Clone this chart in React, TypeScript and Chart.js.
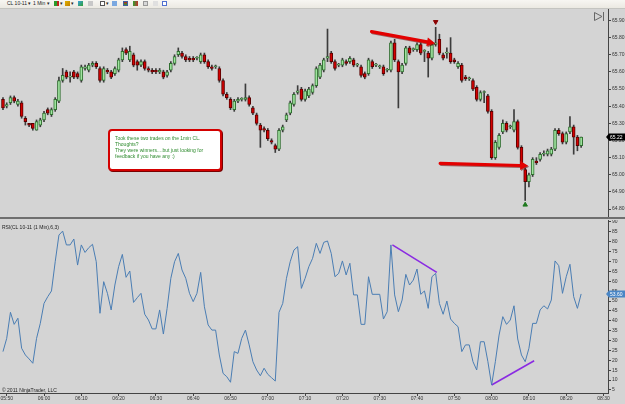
import React, { useEffect, useRef } from "react";
import { Chart, registerables } from "chart.js";

Chart.register(...registerables);

// ---------- data (1-minute bars, CL 10-11, starting 05:49) ----------
const OPEN = [
  65.44, 65.40, 65.42, 65.45, 65.41, 65.42, 65.33, 65.30, 65.30, 65.26,
  65.29, 65.32, 65.38, 65.35, 65.38, 65.43, 65.55, 65.60, 65.57, 65.60,
  65.59, 65.55, 65.62, 65.61, 65.64, 65.65, 65.62, 65.55, 65.61, 65.60,
  65.59, 65.61, 65.67, 65.73, 65.67, 65.70, 65.66, 65.64, 65.66, 65.62,
  65.61, 65.61, 65.60, 65.60, 65.58, 65.61, 65.65, 65.70, 65.71, 65.69,
  65.68, 65.68, 65.68, 65.66, 65.70, 65.66, 65.63, 65.63, 65.62, 65.55,
  65.47, 65.44, 65.38, 65.43, 65.44, 65.44, 65.45, 65.39, 65.35, 65.29,
  65.27, 65.26, 65.20, 65.17, 65.15, 65.26, 65.32, 65.36, 65.41, 65.48,
  65.50, 65.44, 65.46, 65.48, 65.52, 65.57, 65.61, 65.68, 65.71, 65.66,
  65.64, 65.64, 65.66, 65.66, 65.67, 65.64, 65.63, 65.59, 65.59, 65.66,
  65.64, 65.63, 65.63, 65.61, 65.61, 65.77, 65.66, 65.60, 65.65, 65.74,
  65.73, 65.73, 65.76, 65.72, 65.71, 65.68, 65.76, 65.79, 65.70, 65.71,
  65.71, 65.67, 65.63, 65.64, 65.57, 65.56, 65.55, 65.51, 65.44, 65.48,
  65.46, 65.37, 65.10, 65.16, 65.25, 65.30, 65.28, 65.26, 65.31, 65.16,
  65.03, 64.96, 65.00, 65.08, 65.09, 65.12, 65.12, 65.12, 65.15, 65.26,
  65.24, 65.19, 65.25, 65.28, 65.22, 65.17,
];
const HIGH = [
  65.45, 65.42, 65.46, 65.46, 65.44, 65.43, 65.34, 65.30, 65.30, 65.32,
  65.33, 65.37, 65.39, 65.39, 65.45, 65.57, 65.62, 65.61, 65.60, 65.61,
  65.60, 65.64, 65.64, 65.65, 65.66, 65.66, 65.63, 65.63, 65.62, 65.61,
  65.63, 65.68, 65.74, 65.74, 65.75, 65.71, 65.67, 65.67, 65.67, 65.63,
  65.62, 65.62, 65.62, 65.61, 65.61, 65.66, 65.70, 65.74, 65.72, 65.70,
  65.69, 65.69, 65.69, 65.71, 65.71, 65.67, 65.64, 65.64, 65.63, 65.56,
  65.48, 65.45, 65.44, 65.45, 65.45, 65.53, 65.46, 65.40, 65.36, 65.30,
  65.28, 65.27, 65.21, 65.18, 65.27, 65.29, 65.36, 65.43, 65.48, 65.52,
  65.51, 65.50, 65.51, 65.53, 65.63, 65.65, 65.68, 65.85, 65.72, 65.67,
  65.65, 65.68, 65.67, 65.69, 65.68, 65.65, 65.64, 65.60, 65.68, 65.67,
  65.65, 65.64, 65.64, 65.62, 65.78, 65.79, 65.67, 65.65, 65.75, 65.75,
  65.74, 65.77, 65.77, 65.73, 65.72, 65.77, 65.86, 65.82, 65.71, 65.74,
  65.80, 65.68, 65.66, 65.65, 65.58, 65.57, 65.56, 65.52, 65.49, 65.49,
  65.47, 65.38, 65.20, 65.24, 65.32, 65.31, 65.29, 65.38, 65.32, 65.17,
  65.04, 65.01, 65.10, 65.10, 65.13, 65.14, 65.15, 65.16, 65.27, 65.27,
  65.25, 65.25, 65.34, 65.29, 65.23, 65.22,
];
const LOW = [
  65.38, 65.39, 65.41, 65.42, 65.40, 65.33, 65.29, 65.28, 65.26, 65.26,
  65.28, 65.31, 65.35, 65.34, 65.37, 65.42, 65.54, 65.56, 65.54, 65.56,
  65.56, 65.54, 65.61, 65.60, 65.63, 65.62, 65.54, 65.54, 65.59, 65.56,
  65.58, 65.60, 65.66, 65.70, 65.66, 65.63, 65.61, 65.63, 65.61, 65.60,
  65.59, 65.59, 65.59, 65.56, 65.57, 65.60, 65.64, 65.69, 65.68, 65.66,
  65.66, 65.66, 65.67, 65.65, 65.65, 65.62, 65.61, 65.62, 65.54, 65.46,
  65.44, 65.38, 65.37, 65.42, 65.43, 65.43, 65.40, 65.35, 65.29, 65.16,
  65.25, 65.20, 65.18, 65.13, 65.14, 65.25, 65.31, 65.35, 65.40, 65.47,
  65.43, 65.43, 65.45, 65.47, 65.51, 65.56, 65.60, 65.66, 65.65, 65.61,
  65.63, 65.63, 65.64, 65.65, 65.63, 65.63, 65.57, 65.56, 65.58, 65.62,
  65.63, 65.62, 65.58, 65.60, 65.60, 65.66, 65.39, 65.59, 65.64, 65.70,
  65.72, 65.72, 65.70, 65.66, 65.57, 65.67, 65.75, 65.70, 65.67, 65.68,
  65.65, 65.65, 65.62, 65.54, 65.55, 65.55, 65.49, 65.43, 65.43, 65.42,
  65.36, 65.09, 65.09, 65.15, 65.24, 65.25, 65.27, 65.25, 65.15, 65.05,
  64.85, 64.93, 64.99, 65.06, 65.08, 65.11, 65.11, 65.11, 65.14, 65.23,
  65.18, 65.18, 65.24, 65.12, 65.14, 65.16,
];
const CLOSE = [
  65.39, 65.41, 65.45, 65.43, 65.43, 65.34, 65.31, 65.29, 65.27, 65.31,
  65.32, 65.36, 65.36, 65.38, 65.44, 65.55, 65.58, 65.57, 65.57, 65.57,
  65.57, 65.63, 65.63, 65.64, 65.65, 65.63, 65.55, 65.62, 65.60, 65.57,
  65.62, 65.67, 65.72, 65.71, 65.72, 65.64, 65.64, 65.66, 65.62, 65.61,
  65.60, 65.60, 65.61, 65.57, 65.60, 65.65, 65.69, 65.72, 65.69, 65.67,
  65.67, 65.67, 65.68, 65.70, 65.66, 65.63, 65.62, 65.63, 65.55, 65.47,
  65.45, 65.39, 65.43, 65.44, 65.44, 65.45, 65.41, 65.36, 65.30, 65.26,
  65.26, 65.21, 65.19, 65.15, 65.26, 65.28, 65.35, 65.42, 65.47, 65.49,
  65.44, 65.49, 65.50, 65.52, 65.62, 65.64, 65.67, 65.69, 65.66, 65.62,
  65.64, 65.67, 65.65, 65.68, 65.64, 65.64, 65.58, 65.57, 65.67, 65.63,
  65.64, 65.63, 65.59, 65.61, 65.77, 65.67, 65.60, 65.64, 65.74, 65.71,
  65.73, 65.76, 65.71, 65.72, 65.68, 65.76, 65.77, 65.71, 65.68, 65.71,
  65.66, 65.66, 65.65, 65.55, 65.56, 65.56, 65.50, 65.44, 65.48, 65.48,
  65.37, 65.10, 65.19, 65.23, 65.30, 65.26, 65.28, 65.31, 65.16, 65.06,
  64.96, 65.00, 65.09, 65.07, 65.12, 65.12, 65.14, 65.15, 65.26, 65.24,
  65.19, 65.24, 65.28, 65.22, 65.17, 65.22,
];

// RSI(6,3)
const RSI = [
  24.4, 31.1, 44.3, 38.2, 41.3, 26.1, 22.7, 20.7, 18.5, 31.1,
  38.7, 48.8, 52.2, 55.1, 69.9, 83.4, 85.4, 78.4, 78.4, 81.4,
  68.2, 78.4, 74.6, 77.0, 78.7, 69.9, 43.8, 59.8, 53.9, 45.5,
  58.1, 67.4, 73.6, 62.0, 65.2, 49.3, 51.7, 53.9, 43.3, 40.4,
  35.9, 35.9, 45.5, 33.3, 46.3, 61.5, 69.9, 74.1, 65.7, 61.5,
  53.9, 49.7, 53.9, 64.5, 47.1, 37.9, 35.3, 35.3, 22.7, 13.4,
  11.7, 8.9, 24.4, 23.5, 31.1, 35.3, 27.8, 19.3, 15.1, 12.2,
  16.0, 12.9, 11.2, 9.5, 44.3, 48.8, 61.5, 69.9, 75.8, 77.5,
  56.4, 61.5, 67.4, 71.6, 79.2, 74.1, 79.7, 80.4, 74.1, 62.3,
  64.0, 70.3, 63.2, 69.1, 53.1, 53.1, 38.2, 38.2, 62.3, 53.4,
  53.4, 53.4, 40.9, 44.6, 78.4, 53.1, 44.6, 50.5, 63.5, 58.1,
  60.6, 66.2, 53.4, 55.1, 46.3, 62.3, 64.0, 48.8, 43.3, 50.0,
  40.9, 38.7, 37.0, 24.4, 27.8, 27.8, 19.3, 15.1, 29.4, 29.4,
  19.3, 7.5, 19.3, 32.8, 42.1, 38.2, 40.4, 47.6, 30.8, 22.7,
  19.3, 26.1, 38.7, 38.7, 45.5, 47.6, 46.0, 50.5, 70.3, 67.9,
  53.9, 62.3, 68.6, 52.2, 46.3, 53.6,
];

const TIME_TICKS = [
  "05:50", "06:00", "06:10", "06:20", "06:30", "06:40", "06:50", "07:00", "07:10",
  "07:20", "07:30", "07:40", "07:50", "08:00", "08:10", "08:20", "08:30",
];
const PRICE_TICKS = [64.8, 64.9, 65.0, 65.1, 65.2, 65.3, 65.4, 65.5, 65.6, 65.7, 65.8, 65.9];
const RSI_TICKS = [5, 10, 15, 20, 25, 30, 35, 40, 45, 50, 55, 60, 65, 70, 75, 80, 85, 90];

// divergence lines on RSI (bar index, rsi)
const DIV1_X = [104.4, 116.3];
const DIV1_Y = [78.4, 64.5];
const DIV2_X = [131, 142.4];
const DIV2_Y = [7.5, 19.8];

// arrows on price (bar index, price)
const ARROW_X0 = [98.8, 117.2];
const ARROW_Y0 = [65.835, 65.067];
const ARROW_X1 = [115.8, 140.8];
const ARROW_Y1 = [65.767, 65.053];

// signal markers
const SHORT_SIGNAL = { x: 116, y: 65.892 };
const LONG_SIGNAL = { x: 140, y: 64.825 };

const CURRENT_PRICE_LABEL = "65.22";
const CURRENT_RSI_LABEL = "53.60";

const NOTE_LINES = [
  "Took these two trades on the 1min CL.",
  "Thoughts?",
  "They were winners....but just looking for",
  "feedback if you have any :)",
];

const FONT = "'Liberation Sans', Arial, sans-serif";
const X_MIN = -0.8;
const X_MAX = 162.2;

function xScale(display: boolean) {
  return {
    type: "linear" as const,
    min: X_MIN,
    max: X_MAX,
    offset: false,
    display,
    afterBuildTicks: (s: any) => {
      s.ticks = TIME_TICKS.map((_, k) => ({ value: 1 + 10 * k }));
    },
    afterFit: (s: any) => {
      s.height = display ? 11 : 0;
      s.paddingLeft = 0;
      s.paddingRight = 0;
    },
    ticks: {
      autoSkip: false,
      maxRotation: 0,
      padding: 0,
      color: "#333",
      font: { family: FONT, size: 5 },
      callback: (v: any) => TIME_TICKS[Math.round((Number(v) - 1) / 10)] ?? "",
    },
    grid: { drawOnChartArea: false, drawTicks: true, tickLength: 3, color: "#444" },
    border: { display: true, color: "#444", width: 1 },
  };
}

function yScale(min: number, max: number, ticks: number[], fmt: (v: number) => string) {
  return {
    type: "linear" as const,
    position: "right" as const,
    min,
    max,
    afterBuildTicks: (s: any) => {
      s.ticks = ticks.map((v) => ({ value: v }));
    },
    afterFit: (s: any) => {
      s.width = 17;
      s.paddingTop = 0;
      s.paddingBottom = 0;
    },
    ticks: {
      padding: 1,
      color: "#333",
      font: { family: FONT, size: 5 },
      callback: (v: any) => fmt(Number(v)),
    },
    grid: { drawOnChartArea: false, drawTicks: true, tickLength: 3, color: "#444" },
    border: { display: true, color: "#444", width: 1 },
  };
}

function drawValueLabel(ctx: CanvasRenderingContext2D, chart: any, y: number, text: string, fill: string, color: string) {
  const left = chart.chartArea.right;
  const w = chart.width - left;
  const h = 7;
  ctx.save();
  ctx.fillStyle = fill;
  ctx.beginPath();
  ctx.moveTo(left - 2, y);
  ctx.lineTo(left + 1, y - h / 2);
  ctx.lineTo(left + w, y - h / 2);
  ctx.lineTo(left + w, y + h / 2);
  ctx.lineTo(left + 1, y + h / 2);
  ctx.closePath();
  ctx.fill();
  ctx.fillStyle = color;
  ctx.font = `5px ${FONT}`;
  ctx.textBaseline = "middle";
  ctx.textAlign = "left";
  ctx.fillText(text, left + 2, y + 0.5);
  ctx.restore();
}

const priceOverlay = {
  id: "priceOverlay",
  afterDatasetsDraw(chart: any) {
    const { ctx, scales } = chart;
    const sx = scales.x;
    const sy = scales.y;
    ctx.save();
    for (let k = 0; k < ARROW_X0.length; k++) {
      const x0 = sx.getPixelForValue(ARROW_X0[k]);
      const y0 = sy.getPixelForValue(ARROW_Y0[k]);
      const x1 = sx.getPixelForValue(ARROW_X1[k]);
      const y1 = sy.getPixelForValue(ARROW_Y1[k]);
      const ang = Math.atan2(y1 - y0, x1 - x0);
      const hl = 8;
      const hw = 4.5;
      const bx = x1 - Math.cos(ang) * hl;
      const by = y1 - Math.sin(ang) * hl;
      for (const pass of [0, 1]) {
        const off = pass === 0 ? 1 : 0;
        ctx.strokeStyle = pass === 0 ? "rgba(110,0,0,0.55)" : "#e30000";
        ctx.fillStyle = ctx.strokeStyle;
        ctx.lineWidth = 3.2;
        ctx.lineCap = "round";
        ctx.beginPath();
        ctx.moveTo(x0 + off, y0 + off);
        ctx.lineTo(bx + off, by + off);
        ctx.stroke();
        ctx.beginPath();
        ctx.moveTo(x1 + off, y1 + off);
        ctx.lineTo(bx - Math.sin(ang) * hw + off, by + Math.cos(ang) * hw + off);
        ctx.lineTo(bx + Math.sin(ang) * hw + off, by - Math.cos(ang) * hw + off);
        ctx.closePath();
        ctx.fill();
      }
    }
    ctx.restore();
  },
  afterDraw(chart: any) {
    const y = chart.scales.y.getPixelForValue(CLOSE[CLOSE.length - 1]);
    drawValueLabel(chart.ctx, chart, y, CURRENT_PRICE_LABEL, "#000", "#fff");
  },
};

const rsiOverlay = {
  id: "rsiOverlay",
  afterDraw(chart: any) {
    const y = chart.scales.y.getPixelForValue(RSI[RSI.length - 1]);
    drawValueLabel(chart.ctx, chart, y, CURRENT_RSI_LABEL, "#4a86c5", "#fff");
  },
};

export default function App() {
  const priceRef = useRef<HTMLCanvasElement>(null);
  const rsiRef = useRef<HTMLCanvasElement>(null);

  useEffect(() => {
    const idx = CLOSE.map((_, i) => i);
    const up = idx.map((i) => CLOSE[i] >= OPEN[i]);

    const priceChart = new Chart(priceRef.current!, {
      type: "bar",
      data: {
        datasets: [
          {
            type: "bar",
            data: idx.map((i) => ({ x: i, y: [LOW[i], HIGH[i]] })) as any,
            backgroundColor: "#3c3c3c",
            barThickness: 1,
            grouped: false,
            borderWidth: 0,
            order: 2,
          } as any,
          {
            type: "bar",
            data: idx.map((i) => ({ x: i, y: [OPEN[i], CLOSE[i]] })) as any,
            backgroundColor: idx.map((i) => (up[i] ? "#9fe49f" : "#d40000")),
            borderColor: idx.map((i) => (up[i] ? "#2f6e2f" : "#5a0000")),
            borderWidth: 1,
            borderSkipped: false,
            barThickness: 3,
            minBarLength: 1,
            grouped: false,
            order: 1,
          } as any,
          {
            type: "scatter",
            data: [SHORT_SIGNAL],
            pointStyle: "triangle",
            rotation: 180,
            pointRadius: 2.6,
            backgroundColor: "#8b0000",
            borderColor: "#8b0000",
            order: 0,
          } as any,
          {
            type: "scatter",
            data: [LONG_SIGNAL],
            pointStyle: "triangle",
            pointRadius: 2.6,
            backgroundColor: "#1f7a1f",
            borderColor: "#1f7a1f",
            order: 0,
          } as any,
        ],
      },
      options: {
        responsive: false,
        animation: false,
        events: [],
        layout: { padding: 0, autoPadding: false },
        plugins: { legend: { display: false }, tooltip: { enabled: false } },
        scales: {
          x: xScale(false) as any,
          y: yScale(64.748, 65.967, PRICE_TICKS, (v) => v.toFixed(2)) as any,
        },
      },
      plugins: [priceOverlay],
    });

    const rsiChart = new Chart(rsiRef.current!, {
      type: "line",
      data: {
        datasets: [
          {
            data: idx.map((i) => ({ x: i, y: RSI[i] })),
            borderColor: "#4a7db3",
            borderWidth: 1,
            pointRadius: 0,
            tension: 0,
          },
          {
            data: DIV1_X.map((x, k) => ({ x, y: DIV1_Y[k] })),
            borderColor: "#8a2be2",
            borderWidth: 1.6,
            pointRadius: 0,
          },
          {
            data: DIV2_X.map((x, k) => ({ x, y: DIV2_Y[k] })),
            borderColor: "#8a2be2",
            borderWidth: 1.6,
            pointRadius: 0,
          },
        ],
      },
      options: {
        responsive: false,
        animation: false,
        events: [],
        layout: { padding: 0, autoPadding: false },
        plugins: { legend: { display: false }, tooltip: { enabled: false } },
        scales: {
          x: xScale(true) as any,
          y: yScale(3.46, 91.01, RSI_TICKS, (v) => String(v)) as any,
        },
      },
      plugins: [rsiOverlay],
    });

    return () => {
      priceChart.destroy();
      rsiChart.destroy();
    };
  }, []);

  const icon = (left: number, bg: string, border = "none") => (
    <span
      style={{
        position: "absolute",
        left,
        top: 1,
        width: 5,
        height: 5,
        background: bg,
        border,
        boxSizing: "border-box",
      }}
    />
  );

  return (
    <div
      style={{
        position: "fixed",
        left: 0,
        top: 0,
        width: 625,
        height: 404,
        background: "#d4d4d4",
        overflow: "hidden",
        fontFamily: FONT,
      }}
    >
      {/* toolbar */}
      <div
        style={{
          position: "absolute",
          left: 0,
          top: 0,
          width: 625,
          height: 8,
          background: "linear-gradient(#f7f6f2, #ebe9e2)",
          borderBottom: "1px solid #c4c4c0",
          fontSize: 5,
          color: "#222",
          lineHeight: "7px",
        }}
      >
        <span style={{ position: "absolute", left: 7, top: 0 }}>CL 10-11 ▾</span>
        <span style={{ position: "absolute", left: 33, top: 0 }}>1 Min ▾</span>
        {icon(54, "linear-gradient(90deg,#2a9a2a 50%,#c02020 50%)")}
        <span style={{ position: "absolute", left: 60, top: 0 }}>▾</span>
        {icon(65, "linear-gradient(135deg,#e0b000,#c08000)")}
        <span style={{ position: "absolute", left: 71, top: 0 }}>▾</span>
        {icon(78, "linear-gradient(135deg,#3aa0e0,#30a030)")}
        {icon(88, "#c8c8c8")}
        {icon(100, "#fff", "1px solid #555")}
        <span style={{ position: "absolute", left: 106, top: 0 }}>▾</span>
        {icon(112, "#7aa8e0")}
        {icon(123, "linear-gradient(#c02020,#30a030)", "1px solid #4060a0")}
        {icon(133, "linear-gradient(90deg,#30a030,#c03030)")}
        {icon(143, "#d8d8d8", "1px solid #999")}
        {icon(153, "#e0e0e0")}
        {icon(162, "#fff", "1px solid #5070d0")}
      </div>

      <canvas
        ref={priceRef}
        width={625}
        height={209}
        style={{ position: "absolute", left: 0, top: 9, width: 625, height: 209 }}
      />

      {/* panel separator */}
      <div style={{ position: "absolute", left: 0, top: 217, width: 625, height: 2, background: "#6f6f6f" }} />

      <canvas
        ref={rsiRef}
        width={625}
        height={184}
        style={{ position: "absolute", left: 0, top: 220, width: 625, height: 184 }}
      />

      {/* go-to-end button */}
      <svg style={{ position: "absolute", left: 593, top: 11 }} width={13} height={11}>
        <path d="M1.5 1.5 L9 5.5 L1.5 9.5 Z" fill="none" stroke="#666" strokeWidth={1} />
        <line x1={10.5} y1={1} x2={10.5} y2={10} stroke="#666" strokeWidth={1} />
      </svg>

      {/* note box */}
      <div
        style={{
          position: "absolute",
          left: 108,
          top: 129,
          width: 114,
          height: 42,
          boxSizing: "border-box",
          background: "#fff",
          border: "2px solid #d40000",
          borderRadius: 4,
          boxShadow: "1px 1px 0 #7a0000",
          padding: "4px 0 0 5px",
          color: "#2e8b2e",
          fontSize: 5,
          lineHeight: "6px",
          whiteSpace: "nowrap",
        }}
      >
        {NOTE_LINES.map((t, k) => (
          <div key={k}>{t}</div>
        ))}
      </div>

      <div style={{ position: "absolute", left: 2, top: 224, fontSize: 5, color: "#222", whiteSpace: "nowrap" }}>
        RSI(CL 10-11 (1 Min),6,3)
      </div>
      <div style={{ position: "absolute", left: 2, top: 387, fontSize: 5, color: "#222", whiteSpace: "nowrap" }}>
        © 2011 NinjaTrader, LLC
      </div>
    </div>
  );
}
